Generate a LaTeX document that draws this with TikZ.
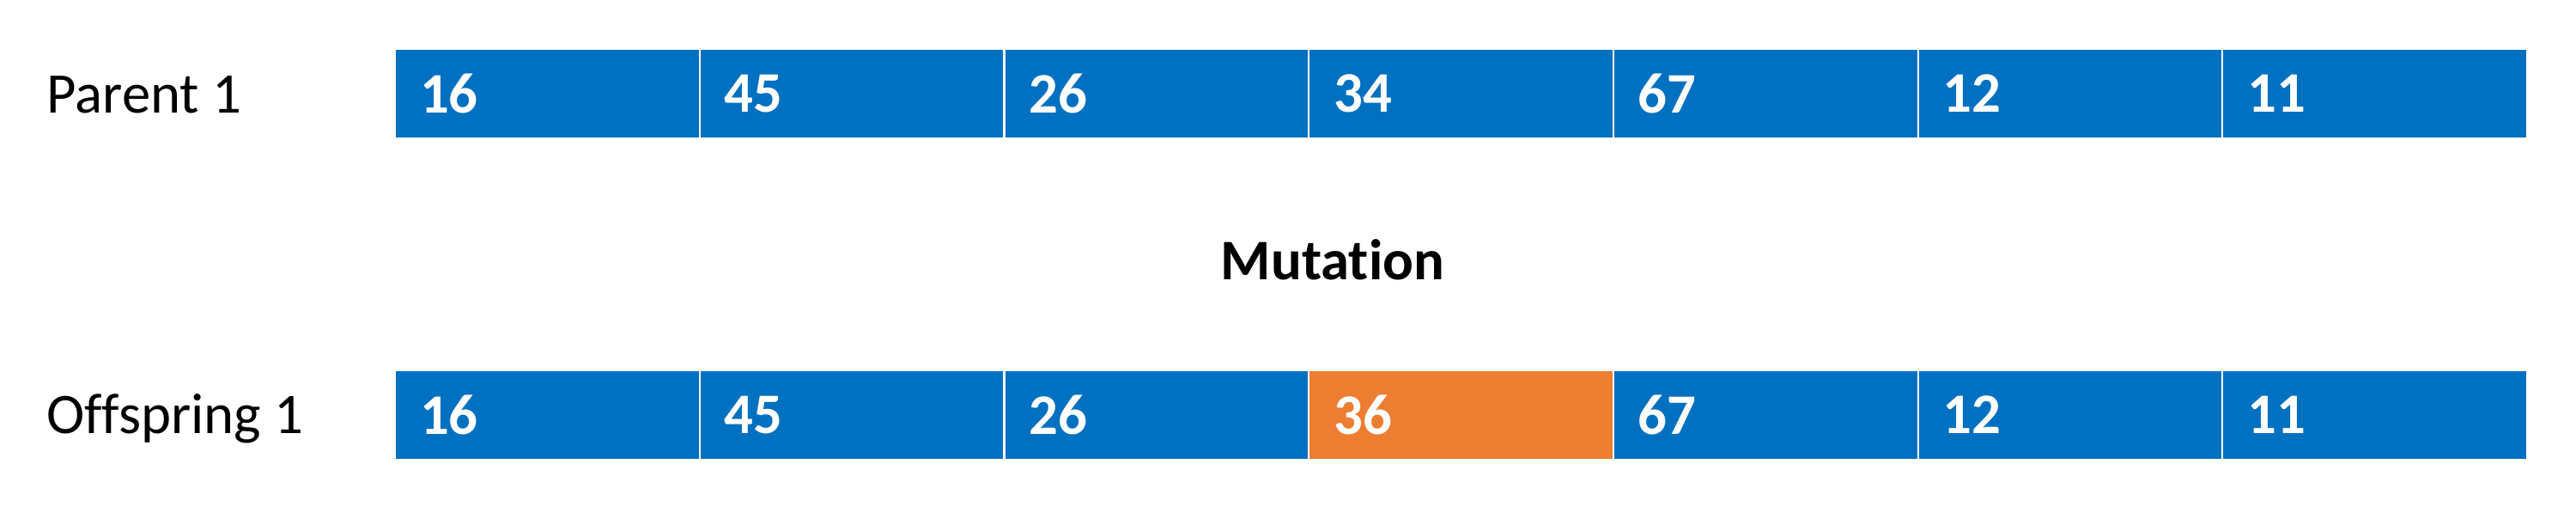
\documentclass[tikz,border=0pt]{standalone}
\usepackage{fontspec}
\setmainfont{Carlito}[Ligatures={NoCommon}]
\definecolor{cellblue}{HTML}{0070C0}
\definecolor{cellorange}{HTML}{ED7D31}
\begin{document}
\begin{tikzpicture}[
  cell/.style={draw=white, line width=0.6pt, fill=cellblue, text=white,
    font=\fontsize{19}{23}\selectfont\bfseries,
    minimum width=3.547cm, minimum height=1.04cm, text width=2.967cm,
    inner xsep=0.29cm, inner ysep=0pt, align=left, anchor=west},
  mutcell/.style={cell, fill=cellorange},
  rowlabel/.style={font=\fontsize{19}{23}\selectfont, anchor=base west, inner sep=0pt},
  title/.style={font=\fontsize{19}{23}\selectfont\bfseries, inner sep=0pt}
]
\useasboundingbox (0,0) rectangle (30,6.03);
% Parent row
\foreach \v [count=\i from 0] in {16,45,26,34,67,12,11} {
  \node[cell] (p\i) at ({4.59+3.547*\i},4.94) {\v};
}
% Offspring row
\foreach \v [count=\i from 0] in {16,45,26,36,67,12,11} {
  \ifnum\i=3
    \node[mutcell] (o\i) at ({4.59+3.547*\i},1.20) {\v};
  \else
    \node[cell] (o\i) at ({4.59+3.547*\i},1.20) {\v};
  \fi
}
\node[rowlabel] (plabel) at (0.54,4.71) {Parent 1};
\node[rowlabel] (olabel) at (0.54,0.99) {Offspring 1};
\node[title] (mut) at (15.52,3.01) {Mutation};
\end{tikzpicture}
\end{document}
